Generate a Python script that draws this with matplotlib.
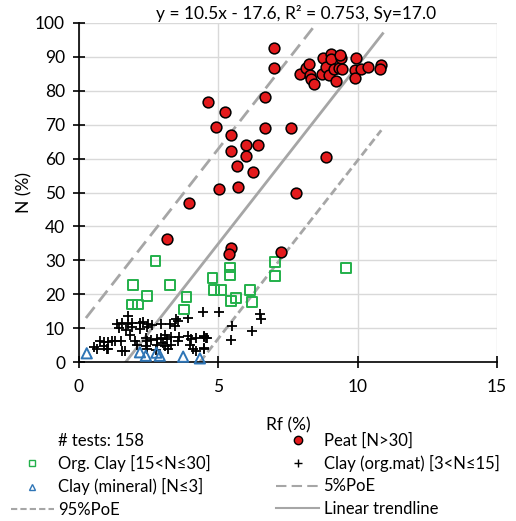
import numpy as np
import matplotlib
matplotlib.use("Agg")
import matplotlib.pyplot as plt
from matplotlib.lines import Line2D

plt.rcParams['font.family'] = ['Lato', 'DejaVu Sans']

# %% data (Rf %, N %)
peat_rf = [4.63, 6.69, 5.23, 4.93, 6.69, 7.60, 5.47, 6.01, 6.43, 5.47, 5.99, 5.67, 6.25,
           5.02, 5.72, 7.80, 3.94, 6.99, 6.99, 8.88, 3.17, 5.47, 5.39, 7.25,
           7.95, 8.16, 8.24, 8.30, 8.34, 8.42, 8.71, 8.76, 8.85, 8.97, 9.06, 9.03, 9.15,
           9.24, 9.33, 9.42, 9.38, 9.45, 9.95, 9.89, 10.13, 10.37, 9.90, 10.85, 10.82]
peat_n = [76.8, 78.3, 73.8, 69.2, 69.0, 68.9, 66.9, 64.0, 64.0, 62.3, 60.9, 57.8, 56.0,
          51.0, 51.5, 49.9, 47.0, 92.7, 86.8, 60.6, 36.2, 33.5, 31.9, 32.5,
          85.0, 86.6, 87.8, 84.7, 83.5, 82.0, 85.0, 89.6, 87.1, 84.7, 90.8, 89.3, 86.3,
          82.9, 86.6, 89.6, 90.6, 86.3, 89.6, 86.1, 86.3, 87.1, 83.7, 87.6, 86.4]

org_clay_rf = [2.75, 1.95, 3.26, 2.45, 1.90, 2.12, 3.86, 3.78, 4.79, 4.84, 5.11, 5.41, 5.41,
               5.47, 5.65, 6.13, 6.22, 7.03, 7.03, 9.59]
org_clay_n = [29.9, 22.7, 22.7, 19.5, 17.0, 17.0, 19.1, 15.5, 24.7, 21.2, 21.2, 27.9, 25.7,
              18.1, 18.8, 21.2, 17.8, 29.4, 25.4, 27.8]

clay_om_rf = [1.77, 3.50, 3.56, 3.92, 4.46, 5.03, 6.49, 6.55,
              1.35, 1.53, 1.77, 1.89, 2.19, 2.30, 2.48, 2.61, 2.96, 3.26,
              1.45, 1.70, 1.90, 2.20, 2.45, 3.45, 5.51, 6.22,
              1.85, 2.40, 3.10, 3.60, 3.15,
              0.75, 0.90, 1.05, 1.20, 1.30, 1.50, 2.00, 2.45, 2.60, 2.80, 2.95, 3.30,
              3.55, 3.90, 4.02, 4.20, 4.50, 4.60, 5.47,
              0.55, 0.90, 1.00, 1.55, 2.10, 2.40, 2.45, 2.80, 3.10, 3.20, 4.00, 4.10,
              4.20, 4.50, 2.75, 3.00, 3.30, 0.63, 1.05, 1.65, 4.48, 4.55, 4.48]
clay_om_n = [13.6, 12.8, 12.0, 13.0, 14.7, 14.7, 14.2, 12.7,
             11.3, 11.5, 11.2, 11.6, 11.4, 11.8, 11.2, 11.0, 11.3, 11.2,
             10.0, 9.5, 10.2, 9.8, 10.4, 10.5, 10.5, 9.3,
             8.0, 7.2, 8.0, 7.3, 6.8,
             6.2, 6.0, 5.8, 6.1, 6.3, 6.3, 6.2, 6.2, 6.5, 6.8, 7.0, 7.3,
             6.3, 7.6, 6.8, 7.2, 7.6, 7.1, 6.4,
             4.5, 4.6, 3.9, 3.3, 4.9, 4.6, 3.9, 4.9, 4.6, 3.9, 4.9, 3.9,
             3.2, 4.2, 3.5, 5.5, 5.0, 4.0, 4.0, 3.3, 7.5, 7.0, 4.0]

mineral_rf = [0.28, 2.19, 2.40, 2.78, 2.90, 3.74, 4.34]
mineral_n = [2.6, 2.9, 1.9, 2.8, 1.9, 1.6, 1.1]

n_tests = 158
slope, intercept, r2, sy = 10.5, -17.6, 0.753, 17.0
z95 = 1.645
trend_x = [1.68, 10.9]
poe5_x = [0.25, 8.53]
poe95_x = [4.34, 10.85]

# %% plot
fs = 12.5
fig = plt.figure(figsize=(5.16, 5.21), dpi=100)
ax = fig.add_axes([0.153, 0.305, 0.81, 0.651])

line_col = '#A6A6A6'
tx = np.array(trend_x)
ax.plot(tx, slope * tx + intercept, '-', color=line_col, lw=2, zorder=2)
px5 = np.array(poe5_x)
ax.plot(px5, slope * px5 + intercept + z95 * sy, color=line_col, lw=2,
        dashes=(5, 2.5), zorder=2)
px95 = np.array(poe95_x)
ax.plot(px95, slope * px95 + intercept - z95 * sy, color=line_col, lw=2,
        dashes=(3, 1.5), zorder=2)

ax.scatter(clay_om_rf, clay_om_n, marker='+', s=55, color='black', lw=1.3, zorder=3)
ax.scatter(mineral_rf, mineral_n, marker='^', s=55, facecolor='none',
           edgecolor='#2E75B6', lw=1.4, zorder=3, clip_on=False)
ax.scatter(org_clay_rf, org_clay_n, marker='s', s=50, facecolor='none',
           edgecolor='#22B04A', lw=1.4, zorder=3)
ax.scatter(peat_rf, peat_n, marker='o', s=60, facecolor='#E31A1C',
           edgecolor='black', lw=1.1, zorder=4)

ax.set_xlim(0, 15)
ax.set_ylim(0, 100)
ax.set_xticks([0, 5, 10, 15])
ax.set_yticks(np.arange(0, 101, 10))
ax.grid(color='#D9D9D9', lw=1)
ax.set_axisbelow(True)
for s in ['top', 'right']:
    ax.spines[s].set_visible(False)
for s in ['left', 'bottom']:
    ax.spines[s].set_linewidth(1.2)
ax.tick_params(direction='inout', length=8, width=1.2, labelsize=fs)
ax.tick_params(axis='x', pad=8)
ax.tick_params(axis='y', pad=6)
ax.set_xlabel('Rf (%)', fontsize=fs, labelpad=16)
ax.set_ylabel('N (%)', fontsize=fs, labelpad=2)

fig.text(296 / 516, 1 - 13 / 521,
         'y = %.1fx - %.1f, R² = %.3f, Sy=%.1f' % (slope, -intercept, r2, sy),
         ha='center', va='center', fontsize=fs)

handles = [
    Line2D([], [], ls='none'),
    Line2D([], [], ls='none', marker='s', mfc='none', mec='#22B04A', ms=5),
    Line2D([], [], ls='none', marker='^', mfc='none', mec='#2E75B6', ms=5),
    Line2D([], [], color=line_col, lw=1.5, dashes=(3, 1.5)),
    Line2D([], [], ls='none', marker='o', mfc='#E31A1C', mec='black', ms=6),
    Line2D([], [], ls='none', marker='+', color='black', ms=6),
    Line2D([], [], color=line_col, lw=1.5, dashes=(5, 2.5)),
    Line2D([], [], color=line_col, lw=1.5),
]
labels = ['# tests: %d' % n_tests, 'Org. Clay [15<N≤30]', 'Clay (mineral) [N≤3]', '95%PoE',
          'Peat [N>30]', 'Clay (org.mat) [3<N≤15]', '5%PoE', 'Linear trendline']
fig.legend(handles, labels, ncol=2, loc='upper left', bbox_to_anchor=(0.008, 0.182),
           frameon=False, fontsize=12, handlelength=2.6, handletextpad=0.25,
           labelspacing=0.37, columnspacing=3.9, borderaxespad=0)

fig.savefig('out.png', dpi=100)
